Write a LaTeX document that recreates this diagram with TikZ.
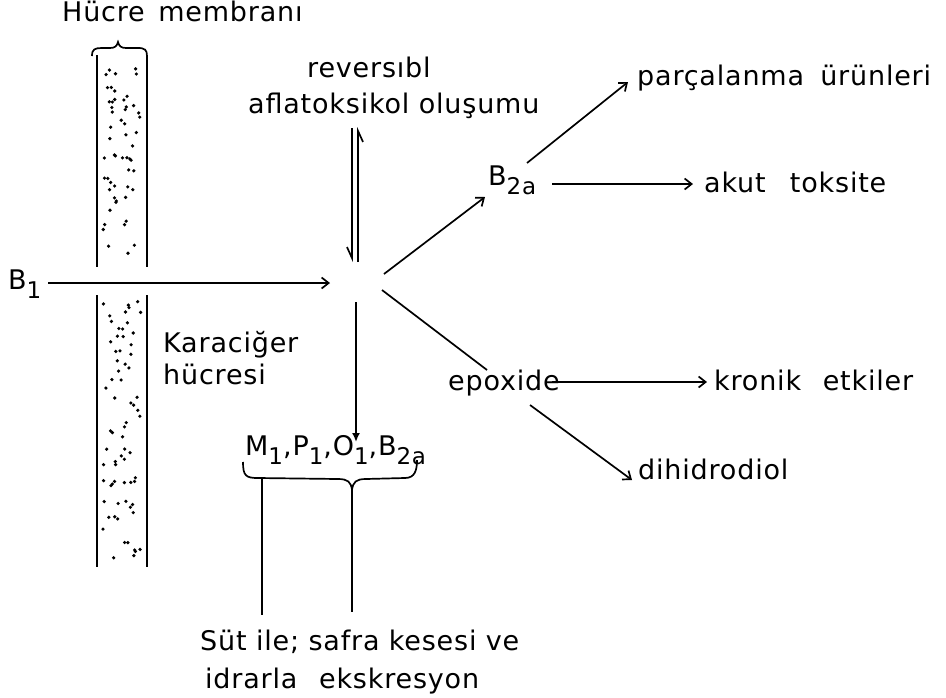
\documentclass[tikz,border=0pt]{standalone}
\usepackage{fontspec}
\setmainfont{DejaVu Sans}[LetterSpace=3]
\usetikzlibrary{arrows.meta}
\newcommand\sbx[1]{\raisebox{-0.65ex}{\fontsize{23}{23}\selectfont #1}}
\begin{document}
\begin{tikzpicture}[x=1pt,y=-1pt,
  lbl/.style={font=\fontsize{27}{31}\selectfont,inner sep=0pt,anchor=base west},
  ln/.style={line width=1.7pt},
  arr/.style={ln,-{Straight Barb[length=7pt,width=11pt]}},
  hp/.style={ln,-{Straight Barb[right,length=11pt,width=10pt]}}]
\useasboundingbox (0,0) rectangle (946,697);
% membrane column
\draw[line width=1.6pt] (97,55) -- (97,267) (147,55) -- (147,267)
  (97,295) -- (97,567) (147,295) -- (147,567);
\pgfmathsetseed{11}
\foreach \i in {1,...,55}{
  \pgfmathsetmacro\xx{103+rnd*38}
  \pgfmathsetmacro\yy{60+rnd*204}
  \fill (\xx,\yy) circle (1.8);
}
\foreach \i in {1,...,70}{
  \pgfmathsetmacro\xx{103+rnd*38}
  \pgfmathsetmacro\yy{300+rnd*262}
  \fill (\xx,\yy) circle (1.8);
}
\draw[ln] (92,56) .. controls (92,49) and (95,48) .. (102,48) -- (110,48)
  .. controls (115,48) and (117,46) .. (118,42)
  .. controls (119,46) and (121,48) .. (126,48) -- (138,48)
  .. controls (145,48) and (147,50) .. (147,56);
% labels
\node[lbl] (hm) at (62,21) {Hücre\hspace{0.5em}membranı};
\node[lbl] (rev) at (307,77) {reversıbl};
\node[lbl] (afl) at (248,113) {aflatoksikol oluşumu};
\node[lbl] (b1) at (8,289) {B\sbx{1}};
\node[lbl] (kar) at (163,352) {Karaciğer};
\node[lbl] (huc) at (163,384) {hücresi};
\node[lbl] (b2a) at (488,185) {B\sbx{2a}};
\node[lbl] (par) at (637,85) {parçalanma\hspace{0.6em}ürünleri};
\node[lbl] (akut) at (704,192) {akut\hspace{0.9em}toksite};
\node[lbl] (epo) at (448,390) {epoxide};
\node[lbl] (kro) at (714,390) {kronik\hspace{0.8em}etkiler};
\node[lbl] (dih) at (638,479) {dihidrodiol};
\node[lbl] (mlist) at (245,455) {M\sbx{1},P\sbx{1},O\sbx{1},B\sbx{2a}};
\node[lbl] (sut) at (200,650) {Süt ile; safra kesesi ve};
\node[lbl] (idr) at (205,688) {idrarla\hspace{0.8em}ekskresyon};
% coordinates
\coordinate (c) at (357,283);
\coordinate (b1o) at (48,283);
\coordinate (cW) at (330,283);
\coordinate (hpT1) at (352,128);
\coordinate (hpB1) at (352,262);
\coordinate (hpT2) at (358,127);
\coordinate (hpB2) at (358,262);
\coordinate (cS) at (356,302);
\coordinate (mTop) at (356,442);
\coordinate (cNE) at (384,274);
\coordinate (b2aIn) at (485,197);
\coordinate (cSE) at (382,290);
\coordinate (epoIn) at (487,370);
\coordinate (b2aE) at (552,184);
\coordinate (akutW) at (693,184);
\coordinate (b2aN) at (527,163);
\coordinate (parW) at (628,82);
\coordinate (epoE) at (552,382);
\coordinate (kroW) at (707,382);
\coordinate (epoSE) at (530,405);
\coordinate (dihW) at (632,480);
% connectors
\draw[arr] (b1o) -- (cW);
\draw[hp] (hpT1) -- (hpB1);
\draw[hp] (hpB2) -- (hpT2);
\draw[ln,-{Latex[length=9pt,width=8pt]}] (cS) -- (mTop);
\draw[arr] (cNE) -- (b2aIn);
\draw[ln] (cSE) -- (epoIn);
\draw[arr] (b2aE) -- (akutW);
\draw[arr] (b2aN) -- (parW);
\draw[arr] (epoE) -- (kroW);
\draw[arr] (epoSE) -- (dihW);
% brace under list
\coordinate (brL) at (243,462);
\coordinate (brR) at (417,460);
\coordinate (brTip) at (352,490);
\draw[ln] (brL) .. controls (243,476) and (246,478) .. (258,478) -- (338,479)
  .. controls (348,479) and (351,482) .. (brTip)
  .. controls (353,482) and (356,479) .. (366,479) -- (405,478)
  .. controls (415,478) and (417,470) .. (brR);
\coordinate (l1t) at (262,479);
\coordinate (l1b) at (262,615);
\coordinate (l2b) at (352,612);
\draw[ln] (l1t) -- (l1b);
\draw[ln] (brTip) -- (l2b);
\end{tikzpicture}
\end{document}
